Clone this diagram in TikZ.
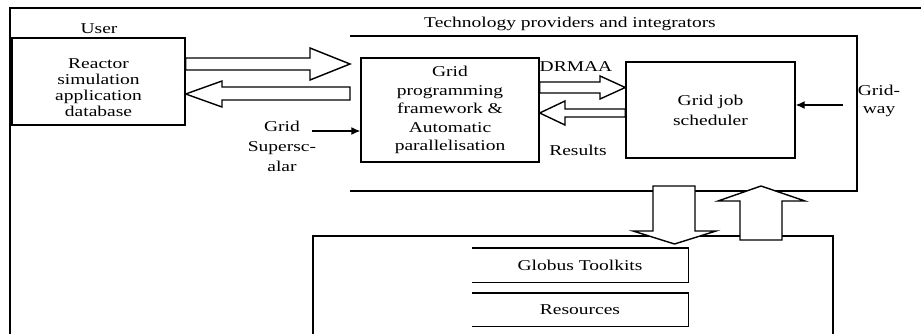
\documentclass[tikz,border=0pt]{standalone}
\usepackage{fontspec}
\setmainfont{Liberation Serif}[FakeStretch=1.3]
\usepackage{tikz}
\usetikzlibrary{arrows.meta}

\begin{document}
\begin{tikzpicture}[x=1pt,y=-1pt]
	\useasboundingbox (0,0) rectangle (921,334);
	\begin{scope}
		[
			every node/.style={font=\fontsize{15}{16}\selectfont, align=center, inner sep=0pt},
			box/.style = {draw=black, line width=1.4pt},
			frame/.style = {draw=black, line width=1.1pt}
		]
		% outer frame and the two groups
		\draw[frame] (10,334) -- (10,8) -- (921,8);
		\draw[frame] (350,36) -- (857,36) -- (857,191) -- (350,191);
		\draw[frame] (313,334) -- (313,236) -- (833,236) -- (833,334);

		\node(user) at (99,29) {User};
		\node(tech) at (570,24) {Technology providers and integrators};

		\node(reactor)[box, minimum width=173pt, minimum height=87pt] at (98.5,81.5) {\rule{0pt}{22pt}Reactor\\simulation\\application\\database};
		\node(grid)[box, minimum width=178pt, minimum height=104pt, font=\fontsize{15}{18.5}\selectfont] at (450,110) {Grid\\programming\\framework \&\\Automatic\\parallelisation};
		\node(sched)[box, minimum width=169pt, minimum height=96pt, font=\fontsize{15}{20}\selectfont] at (710.5,110) {Grid job\\scheduler};

		\node(drmaa) at (576,67) {DRMAA};
		\node(results) at (578,150) {Results};
		\node(gss)[font=\fontsize{15}{20}\selectfont] at (282,146) {Grid\\Supersc-\\alar};
		\node(gway)[font=\fontsize{15}{18}\selectfont] at (879,101) {Grid-\\way};

		\node(globus)[minimum width=216pt, minimum height=34pt] at (580,265) {Globus Toolkits};
		\node(res)[minimum width=216pt, minimum height=33pt] at (580,309.5) {Resources};
		\draw[box] (globus.north west) -- (globus.north east) -- (globus.south east) -- (globus.south west);
		\draw[box] (res.north west) -- (res.north east) -- (res.south east) -- (res.south west);
	\end{scope}
	\begin{scope}
		[
			hollow/.style = {draw=black, fill=white, line width=1.4pt, line join=miter},
			thinarrow/.style = {draw=black, line width=1.3pt, -{Latex[length=9pt,width=8pt]}}
		]
		% block arrows
		\draw[hollow] (reactor.east |- 0,58) -- (310,58) -- (310,48) -- (350,64) -- (310,80) -- (310,70) -- (reactor.east |- 0,70) -- cycle;
		\draw[hollow] (350,87) -- (222,87) -- (222,81) -- (reactor.east |- 0,94) -- (222,107) -- (222,100) -- (350,100) -- cycle;
		\draw[hollow] (grid.east |- 0,82) -- (600,82) -- (600,76) -- (sched.west |- 0,87.5) -- (600,99) -- (600,93) -- (grid.east |- 0,93) -- cycle;
		\draw[hollow] (sched.west |- 0,109) -- (565,109) -- (565,101) -- (grid.east |- 0,113) -- (565,125) -- (565,117) -- (sched.west |- 0,117) -- cycle;
		\draw[hollow] (653,186) -- (695,186) -- (695,231) -- (716,231) -- (674.5,244) -- (633,231) -- (653,231) -- cycle;
		\draw[hollow] (740,240) -- (740,201) -- (718,201) -- (761,186) -- (805,201) -- (782,201) -- (782,240) -- cycle;

		\coordinate (gssout) at (312,131);
		\coordinate (gwayout) at (843,105);
		\draw[thinarrow] (gssout) -- (gssout -| grid.west);
		\draw[thinarrow] (gwayout) -- (gwayout -| sched.east);
	\end{scope}
\end{tikzpicture}
\end{document}
